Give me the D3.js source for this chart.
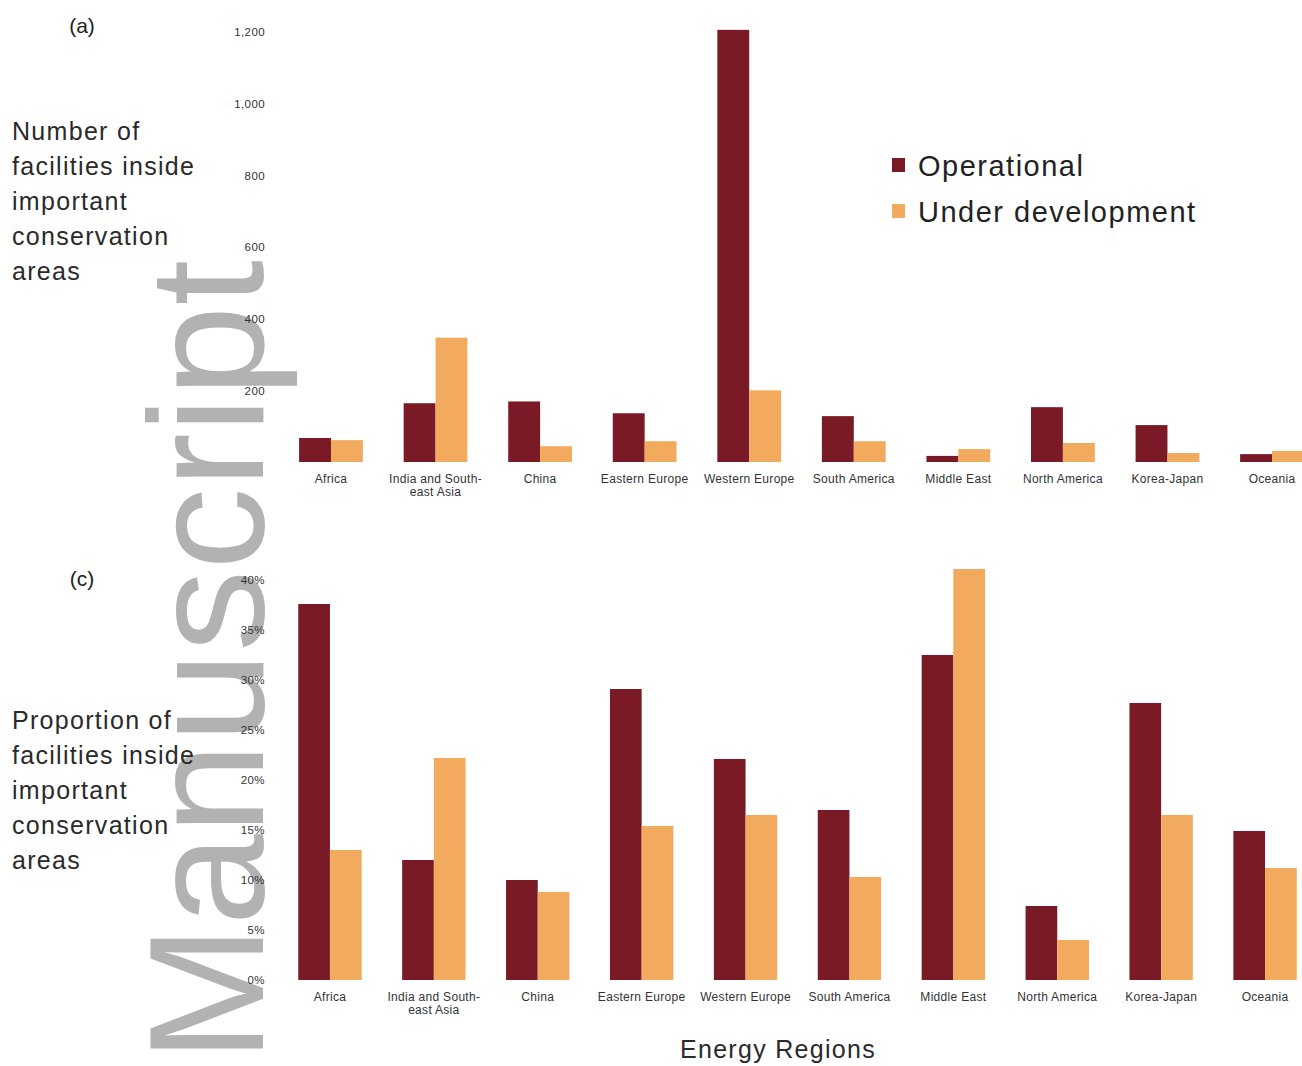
<!DOCTYPE html>
<html>
<head>
<meta charset="utf-8">
<script src="https://cdn.jsdelivr.net/npm/d3@7"></script>
<style>
  body { margin: 0; background: #fff; }
  svg { font-family: "Liberation Sans", Arial, sans-serif; }
  .tick-label { font-size: 11.5px; fill: #333; letter-spacing: 0.4px; }
  .cat-label { font-size: 12px; fill: #333; letter-spacing: 0.3px; }
  .title { font-size: 25px; fill: #2a2a2a; letter-spacing: 1.3px; }
</style>
</head>
<body>
<svg id="chart" width="1302" height="1066"></svg>
<script>
const regions = ["Africa", "India and South-east Asia", "China", "Eastern Europe", "Western Europe",
    "South America", "Middle East", "North America", "Korea-Japan", "Oceania"];
const series = ["Operational", "Under development"];

// (a) number of facilities inside important conservation areas
const countOperational = [67, 164, 169, 136, 1206, 128, 17, 153, 103, 22];
const countDevelopment = [61, 347, 44, 58, 200, 58, 36, 53, 25, 31];
const countTicks = [200, 400, 600, 800, 1000, 1200];

// (c) proportion of facilities inside important conservation areas (%)
const shareOperational = [37.6, 12.0, 10.0, 29.1, 22.1, 17.0, 32.5, 7.4, 27.7, 14.9];
const shareDevelopment = [13.0, 22.2, 8.8, 15.4, 16.5, 10.3, 41.1, 4.0, 16.5, 11.2];
const shareTicks = [0, 5, 10, 15, 20, 25, 30, 35, 40];

const colors = d3.scaleOrdinal().domain(series).range(["#7a1a26", "#f2aa5f"]);
const svg = d3.select("#chart");

// watermark sits underneath everything
svg.append("text")
    .attr("transform", "translate(263,1062) rotate(-90)")
    .attr("font-size", 164)
    .attr("fill", "#b2b2b2")
    .text("Manuscript");

function drawPanel(cfg) {
    const x0 = d3.scaleBand()
        .domain(regions)
        .range(cfg.xRange)
        .paddingInner(0.39)
        .paddingOuter(0.195);
    const x1 = d3.scaleBand()
        .domain(series)
        .range([0, x0.bandwidth()]);
    const y = d3.scaleLinear()
        .domain(cfg.yDomain)
        .range(cfg.yRange);

    const g = svg.append("g");
    const rows = regions.map((r, i) => ({ region: r, values: [cfg.op[i], cfg.ud[i]] }));

    g.selectAll("g.group")
        .data(rows)
        .join("g")
        .attr("class", "group")
        .attr("transform", d => `translate(${x0(d.region)},0)`)
        .selectAll("rect")
        .data(d => d.values.map((v, j) => ({ key: series[j], value: v })))
        .join("rect")
        .attr("x", d => x1(d.key))
        .attr("width", x1.bandwidth())
        .attr("y", d => y(d.value))
        .attr("height", d => y(0) - y(d.value))
        .attr("fill", d => colors(d.key));

    // y axis: labels only, no line
    const yAxis = g.append("g")
        .attr("transform", `translate(${cfg.yAxisX},0)`)
        .call(d3.axisLeft(y).tickValues(cfg.ticks).tickSize(0).tickFormat(cfg.fmt));
    yAxis.select(".domain").remove();
    yAxis.selectAll("text").attr("class", "tick-label").attr("fill", null);

    // x axis: labels only
    const xAxis = g.append("g")
        .attr("transform", `translate(0,${cfg.yRange[0]})`)
        .call(d3.axisBottom(x0).tickSize(0).tickPadding(12));
    xAxis.select(".domain").remove();
    xAxis.selectAll("text")
        .attr("class", "cat-label")
        .attr("fill", null)
        .each(function(d) {
            if (d === "India and South-east Asia") {
                const t = d3.select(this).text(null);
                t.append("tspan").attr("x", 0).text("India and South-");
                t.append("tspan").attr("x", 0).attr("dy", "1.15em").text("east Asia");
            }
        });

    // panel letter
    g.append("text")
        .attr("x", 82)
        .attr("y", cfg.letterY)
        .attr("text-anchor", "middle")
        .attr("font-size", 21)
        .attr("fill", "#222")
        .text(cfg.letter);

    // y title
    g.append("text")
        .attr("class", "title")
        .attr("x", 12)
        .attr("y", cfg.titleY)
        .selectAll("tspan")
        .data(cfg.title)
        .join("tspan")
        .attr("x", 12)
        .attr("dy", (d, i) => i === 0 ? 0 : 35)
        .text(d => d);
}

drawPanel({
    xRange: [278.7, 1324.3],
    yDomain: [0, 1200],
    yRange: [462, 32],
    yAxisX: 268,
    ticks: countTicks,
    fmt: d3.format(","),
    op: countOperational,
    ud: countDevelopment,
    letter: "(a)",
    letterY: 33,
    title: ["Number of", "facilities inside", "important", "conservation", "areas"],
    titleY: 140
});

drawPanel({
    xRange: [278, 1317],
    yDomain: [0, 40],
    yRange: [980, 580],
    yAxisX: 268,
    ticks: shareTicks,
    fmt: d => d + "%",
    op: shareOperational,
    ud: shareDevelopment,
    letter: "(c)",
    letterY: 586,
    title: ["Proportion of", "facilities inside", "important", "conservation", "areas"],
    titleY: 729
});

// legend
const legend = svg.append("g").attr("transform", "translate(892,150)");
series.forEach((s, i) => {
    legend.append("rect")
        .attr("x", 0)
        .attr("y", 8 + i * 46)
        .attr("width", 13)
        .attr("height", 14)
        .attr("fill", colors(s));
    legend.append("text")
        .attr("x", 26)
        .attr("y", 26 + i * 46)
        .attr("font-size", 29)
        .attr("letter-spacing", 1.5)
        .attr("fill", "#222")
        .text(s);
});

svg.append("text")
    .attr("class", "title")
    .attr("x", 778)
    .attr("y", 1058)
    .attr("text-anchor", "middle")
    .attr("letter-spacing", 1.6)
    .text("Energy Regions");
</script>
</body>
</html>
